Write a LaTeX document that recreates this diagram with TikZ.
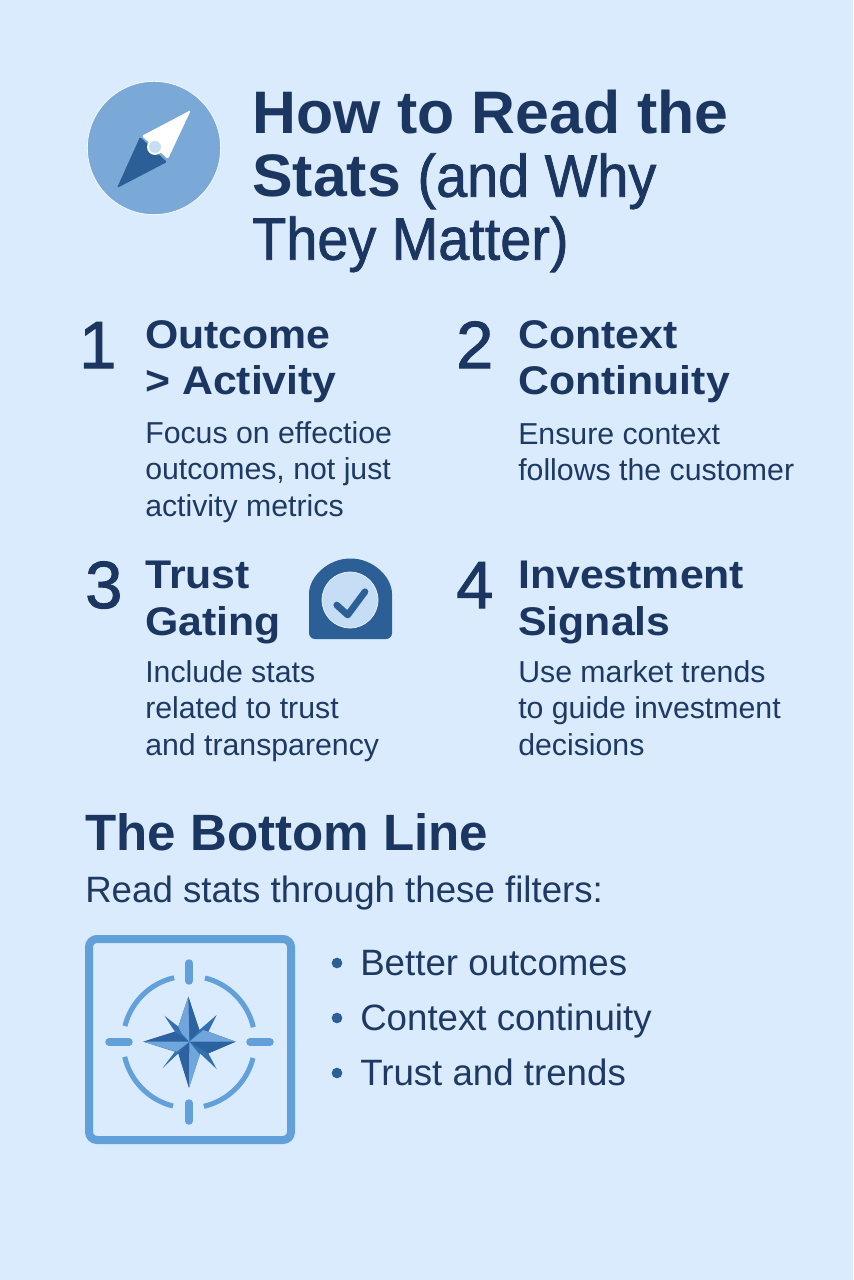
\documentclass[tikz,border=0pt]{standalone}
\usepackage{fontspec}
\setmainfont{Liberation Sans}
\newfontfamily\mediumfont[FakeBold=1.2,FakeStretch=0.93]{Liberation Sans}
\newfontfamily\titlefont[FakeStretch=1.013]{Liberation Sans}
\newfontfamily\headfont[FakeStretch=1.07]{Liberation Sans}
\newfontfamily\numfont[FakeBold=1.5]{Liberation Sans}
\usetikzlibrary{positioning}
\definecolor{rdbg}{RGB}{217,235,252}
\definecolor{rdnavy}{RGB}{27,54,96}
\definecolor{rdtext}{RGB}{30,58,100}
\definecolor{rdcircle}{RGB}{122,169,216}
\definecolor{rddeep}{RGB}{44,95,150}
\definecolor{rdpale}{RGB}{197,222,246}
\definecolor{rdframe}{RGB}{98,160,218}
\definecolor{rdstar}{RGB}{52,112,176}
\definecolor{rdstardark}{RGB}{44,98,160}
\definecolor{rdfacet}{RGB}{112,166,219}
\tikzstyle{title} = [anchor=north west, inner sep=0pt, align=left, text=rdnavy, font=\fontsize{45}{47.25}\selectfont]
\tikzstyle{numeral} = [anchor=base west, inner sep=0pt, text=rdnavy, font=\fontsize{50}{50}\selectfont\numfont]
\tikzstyle{heading} = [anchor=north west, inner sep=0pt, align=left, text=rdnavy, font=\fontsize{30}{35}\selectfont\headfont\bfseries]
\tikzstyle{detail} = [anchor=north west, inner sep=0pt, align=left, text=rdtext, font=\fontsize{22.7}{27.4}\selectfont]
\tikzstyle{bigline} = [anchor=base west, inner sep=0pt, text=rdnavy, font=\fontsize{38.3}{40}\selectfont\bfseries]
\tikzstyle{lead} = [anchor=base west, inner sep=0pt, text=rdtext, font=\fontsize{27.5}{30}\selectfont]
\tikzstyle{bulletdot} = [circle, fill=rddeep, inner sep=0pt, minimum size=8pt]
\tikzstyle{tick} = [line width=5.6pt, line cap=round, color=rdframe]
\tikzstyle{ring} = [line width=3.8pt, color=rdframe]
\begin{document}
\begin{tikzpicture}[x=0.75pt,y=-0.75pt]
\useasboundingbox (0,0) rectangle (853,1280);
\fill[rdbg] (0,0) rectangle (853,1280);

% Compass badge
\node (badge) [circle, fill=rdcircle, draw=white!70!rdbg, line width=0.6pt, inner sep=0pt, minimum size=100pt] at (154,148) {};
\fill[rddeep, rounded corners=1pt] (117,188) -- (140,137) -- (167,162) -- cycle;
\fill[white, rounded corners=1.5pt] (191,110) -- (141.7,136) -- (168,159) -- cycle;
\fill[white] (155,147) circle (8);
\fill[rdpale] (155,147) circle (6);

% Title
\node (title) [title] at (252,90) {\titlefont\bfseries How to Read the\\{\titlefont\bfseries Stats} {\mediumfont(and Why}\\{\mediumfont They Matter)}};

% Numbered points
\node (num1) [numeral] at (79,368) {1};
\node (num2) [numeral] at (456,368) {2};
\node (num3) [numeral] at (85,608) {3};
\node (num4) [numeral] at (456,608) {4};

\node (head1) [heading] at (145,320) {Outcome\\> Activity};
\node (head2) [heading] at (518,320) {Context\\Continuity};
\node (head3) [heading] at (145,561) {Trust\\Gating};
\node (head4) [heading] at (518,561) {Investment\\Signals};

\node (text1) [detail] at (145,421) {Focus on effectioe\\outcomes, not just\\activity metrics};
\node (text2) [detail] at (518,423) {Ensure context\\follows the customer};
\node (text3) [detail] at (145,660) {Include stats\\related to trust\\and transparency};
\node (text4) [detail] at (518,660) {Use market trends\\to guide investment\\decisions};

% Trust shield
\fill[rddeep, rounded corners=4.5pt] (392,639) -- (309,639) -- (309,600) arc[start angle=180, end angle=360, radius=41.5] -- cycle;
\node (seal) [circle, fill=rdpale, draw=white!60!rdpale, line width=0.5pt, inner sep=0pt, minimum size=42pt] at (350,600) {};
\draw[rddeep, line width=5pt, line cap=round, line join=round] (336.7,605) -- (347.7,615) -- (365,591.7);

% Bottom line
\node (bottom) [bigline] at (85,850) {The Bottom Line};
\node (filters) [lead] at (85,902) {Read stats through these filters:};

\node (dot1) [bulletdot] at (337,963) {};
\node (dot2) [bulletdot] at (337,1018) {};
\node (dot3) [bulletdot] at (337,1073) {};
\node (item1) [lead] at (360,975) {Better outcomes};
\node (item2) [lead] at (360,1030) {Context continuity};
\node (item3) [lead] at (360,1085) {Trust and trends};

% Compass rose frame
\draw[rdframe, line width=6pt, rounded corners=6pt] (89,939) rectangle (291,1140);
\coordinate (rose) at (189,1042);
\draw[tick] (189,963) -- (189,981);
\draw[tick] (189,1103) -- (189,1121);
\draw[tick] (109,1042) -- (129,1042);
\draw[tick] (250,1042) -- (270,1042);
\foreach \a in {13,103,193,283}
  \draw[ring] (rose) ++(\a:66 and -66) arc[start angle=-\a, end angle=-\a-63, radius=66];

% Star
\begin{scope}[shift={(70,920)},x=0.25pt,y=-0.25pt]
\fill[rdstar] (355,230) -- (388,330) -- (440,285) -- (415,335) -- (497,365) -- (415,400) -- (440,447) -- (390,400) -- (357,503) -- (325,400) -- (277,445) -- (315,395) -- (220,365) -- (315,335) -- (283,287) -- (325,320) -- cycle;
\fill[rdstardark] (355,230) -- (388,330) -- (358,365) -- cycle;
\fill[rdstardark] (497,365) -- (415,400) -- (358,365) -- cycle;
\fill[rdstardark] (357,503) -- (325,400) -- (358,365) -- cycle;
\fill[rdstardark] (220,365) -- (315,335) -- (358,365) -- cycle;
\fill[rdfacet] (355,230) -- (325,320) -- (335,340) -- (358,365) -- cycle;
\fill[rdfacet] (497,365) -- (400,330) -- (358,365) -- cycle;
\fill[rdfacet] (357,503) -- (390,405) -- (358,365) -- cycle;
\fill[rdfacet] (220,365) -- (320,395) -- (358,365) -- cycle;
\end{scope}
\end{tikzpicture}
\end{document}
